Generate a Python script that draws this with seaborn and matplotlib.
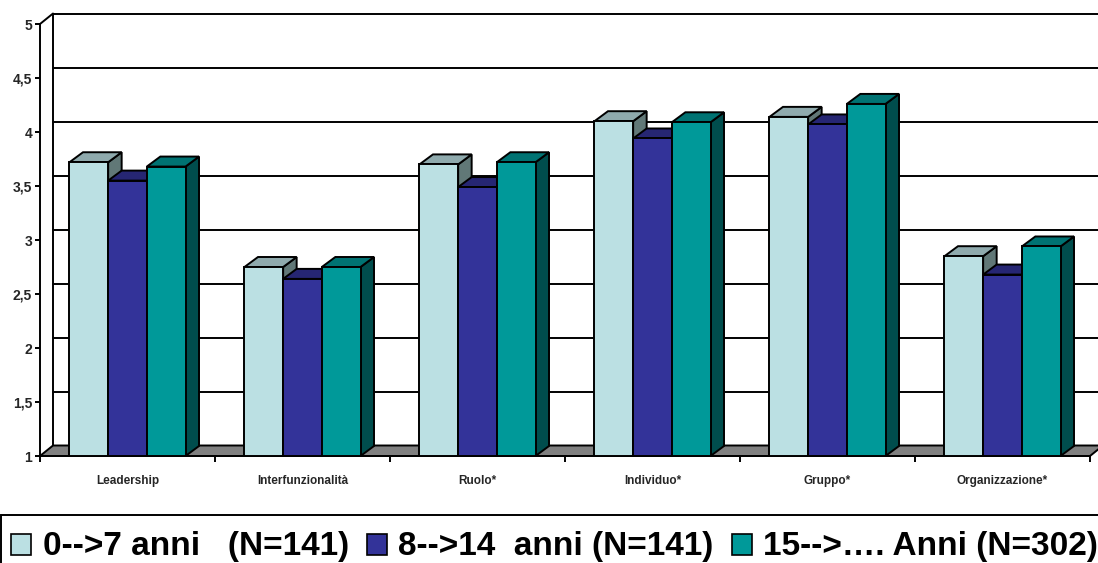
import numpy as np
import pandas as pd
import matplotlib
matplotlib.use("Agg")
import matplotlib.pyplot as plt
from matplotlib.patches import Polygon, Rectangle
import seaborn as sns

categories = ["Leadership", "Interfunzionalità", "Ruolo*", "Individuo*", "Gruppo*", "Organizzazione*"]
series_names = ["0-->7 anni   (N=141)", "8-->14  anni (N=141)", "15-->…. Anni (N=302)"]
vals_0_7 = [3.72, 2.75, 3.70, 4.10, 4.14, 2.85]
vals_8_14 = [3.55, 2.64, 3.49, 3.94, 4.07, 2.68]
vals_15 = [3.68, 2.75, 3.72, 4.09, 4.26, 2.94]
y_ticks = [1, 1.5, 2, 2.5, 3, 3.5, 4, 4.5, 5]
y_tick_labels = ["1", "1,5", "2", "2,5", "3", "3,5", "4", "4,5", "5"]

front_colors = ["#BBE0E3", "#333399", "#009999"]
top_colors = ["#8FAAAD", "#262673", "#007373"]
side_colors = ["#617877", "#1F1F5C", "#004D4D"]

sns.set_theme(style="white")
plt.rcParams["font.family"] = ["Liberation Sans", "DejaVu Sans"]

W, H = 1098, 563
fig = plt.figure(figsize=(W / 100, H / 100), dpi=100)
ax_left, ax_right, ax_top, ax_bottom = 40, 1090, 24, 456
ax = fig.add_axes([ax_left / W, (H - ax_bottom) / H, (ax_right - ax_left) / W, (ax_bottom - ax_top) / H])
ax.set_facecolor("none")

df = pd.DataFrame({
    "cat": np.repeat(categories, 1).tolist() * 3,
    "val": vals_0_7 + vals_8_14 + vals_15,
    "grp": [series_names[0]] * 6 + [series_names[1]] * 6 + [series_names[2]] * 6,
})

sns.barplot(data=df, x="cat", y="val", hue="grp", order=categories, hue_order=series_names,
            palette=front_colors, saturation=1, width=0.663, edgecolor="black",
            linewidth=1.4, legend=False, ax=ax, errorbar=None)

ax.set_xlim(-0.5, 5.5)
ax.set_ylim(1, 5)

# pixel -> data conversion for the depth offset
px_x = 6.0 / (ax_right - ax_left)   # data units per pixel (x)
px_y = 4.0 / (ax_bottom - ax_top)   # data units per pixel (y)
DX, DY = 13 * px_x, 10.5 * px_y     # wall depth
BDX, BDY = 13.5 * px_x, 10 * px_y   # bar depth

LW = 1.4
x0, x1 = -0.5, 5.5
# back wall grid lines
for v in y_ticks[1:]:
    ax.plot([x0 + DX, x1 + DX + 1], [v + DY, v + DY], color="black", lw=LW, clip_on=False, zorder=0.5)
# back wall left edge
ax.plot([x0 + DX, x0 + DX], [1 + DY, 5 + DY], color="black", lw=LW, clip_on=False, zorder=0.5)
# top diagonal
ax.plot([x0, x0 + DX], [5, 5 + DY], color="black", lw=LW, clip_on=False, zorder=0.5)
# floor
floor = Polygon([[x0, 1], [x1, 1], [x1 + DX, 1 + DY], [x0 + DX, 1 + DY]], closed=True,
                facecolor="#808080", edgecolor="black", lw=LW, clip_on=False, zorder=1)
ax.add_patch(floor)

# 3D faces for each bar
bars = [p for p in ax.patches if isinstance(p, Rectangle) and p is not floor and p.get_width() > 0]
hue_of = {}
for i, p in enumerate(bars):
    hue_of[id(p)] = i // len(categories)
bars_sorted = sorted(bars, key=lambda p: p.get_x())
for rank, p in enumerate(bars_sorted):
    h = hue_of[id(p)]
    bx, bw, top = p.get_x(), p.get_width(), p.get_height()
    base = 3 + 3 * rank
    side = Polygon([[bx + bw, 1], [bx + bw + BDX, 1 + BDY], [bx + bw + BDX, top + BDY], [bx + bw, top]],
                   closed=True, facecolor=side_colors[h], edgecolor="black", lw=LW, clip_on=False, zorder=base)
    topf = Polygon([[bx, top], [bx + bw, top], [bx + bw + BDX, top + BDY], [bx + BDX, top + BDY]],
                   closed=True, facecolor=top_colors[h], edgecolor="black", lw=LW, clip_on=False, zorder=base + 1)
    ax.add_patch(side)
    ax.add_patch(topf)
    p.set_zorder(base + 2)
    p.set_linewidth(LW)

# axes styling
for s in ["top", "right"]:
    ax.spines[s].set_visible(False)
for s in ["left", "bottom"]:
    ax.spines[s].set_color("black")
    ax.spines[s].set_linewidth(LW)
    ax.spines[s].set_zorder(200)

ax.set_yticks(y_ticks)
ax.set_yticklabels(y_tick_labels, fontsize=10, fontweight="bold")
ax.tick_params(axis="y", which="major", direction="out", length=3.6, width=LW, color="black", pad=2, left=True)

ax.set_xticks(range(len(categories)))
ax.set_xticklabels(categories, fontsize=8.5, fontweight="bold")
ax.set_xticks(np.arange(-0.5, 6.0, 1.0), minor=True)
ax.tick_params(axis="x", which="major", length=0, pad=14, bottom=False)
ax.tick_params(axis="x", which="minor", direction="out", length=4, width=LW, color="black", bottom=True)
ax.set_xlabel("")
ax.set_ylabel("")
ax.grid(False)

# legend box
lt = 515
fig.patches.append(Rectangle((0.5 / W, -0.05), 1.2, (H - lt) / H + 0.05, transform=fig.transFigure,
                             facecolor="white", edgecolor="black", lw=1.4, figure=fig, zorder=0))
marker_x = [11, 367, 732]
text_x = [43, 398, 763]
for i, name in enumerate(series_names):
    fig.patches.append(Rectangle((marker_x[i] / W, (H - 555) / H), 20 / W, 21 / H, transform=fig.transFigure,
                                 facecolor=front_colors[i], edgecolor="black", lw=1.2, figure=fig, zorder=5))
    fig.text(text_x[i] / W, (H - 555) / H, name, fontsize=24, fontweight="bold", va="baseline", ha="left",
             color="black")

fig.savefig("out.png", dpi=100)
